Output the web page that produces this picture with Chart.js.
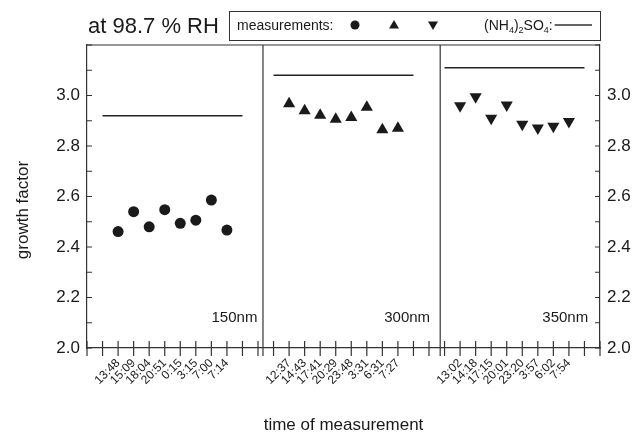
<!DOCTYPE html>
<html>
<head>
<meta charset="utf-8">
<script src="https://cdn.jsdelivr.net/npm/chart.js@4/dist/chart.umd.min.js"></script>
<style>
  body { margin: 0; background: #fff; }
  #c { display: block; }
</style>
</head>
<body>
<canvas id="c" width="638" height="439"></canvas>
<script>
// measurement times (tick labels), one list per particle size
var times150 = ["13:48", "15:09", "18:04", "20:51", "0:15", "3:15", "7:00", "7:14"];
var times300 = ["12:37", "14:43", "17:41", "20:29", "23:48", "3:31", "6:31", "7:27"];
var times350 = ["13:02", "14:18", "17:15", "20:01", "23:20", "3:57", "6:02", "7:54"];

// measured growth factors at 98.7 % RH
var gf150 = [2.461, 2.540, 2.480, 2.548, 2.494, 2.506, 2.586, 2.467];
var gf300 = [2.967, 2.940, 2.922, 2.906, 2.913, 2.953, 2.864, 2.870];
var gf350 = [2.959, 2.995, 2.910, 2.962, 2.886, 2.871, 2.878, 2.897];

// (NH4)2SO4 reference growth factor for each size
var refGf = [2.92, 3.08, 3.11];

// first tick slot of every panel on the shared time axis, and panel edges
var panelStart = [2, 13, 24];
var panelBreaks = [11.32, 22.72];
var panelNames = ["150nm", "300nm", "350nm"];
var xMax = 33;

var FONT = '"Liberation Sans", Arial, Helvetica, sans-serif';
var INK = '#1a1a1a';

var tickNames = {};
function toPoints(start, values, times) {
    var pts = [];
    for (var i = 0; i < values.length; i++) {
        pts.push({x: start + i, y: values[i]});
        tickNames[start + i] = times[i];
    }
    return pts;
}
function refLine(start, n, value) {
    // reference line runs one slot past the first and last measurement
    return [{x: start - 1, y: value}, {x: start + n, y: value}];
}

var pts150 = toPoints(panelStart[0], gf150, times150);
var pts300 = toPoints(panelStart[1], gf300, times300);
var pts350 = toPoints(panelStart[2], gf350, times350);

function markerSet(pts, style, radius, rot) {
    return {
        type: 'scatter',
        data: pts,
        pointStyle: style,
        pointRadius: radius,
        pointHoverRadius: radius,
        rotation: rot,
        backgroundColor: INK,
        borderColor: INK,
        borderWidth: 0
    };
}
function refSet(pts) {
    return {
        type: 'line',
        data: pts,
        borderColor: '#222',
        borderWidth: 1.5,
        pointRadius: 0,
        fill: false
    };
}

// frame, panel separators, tick marks, panel labels, header and legend
var decoPlugin = {
    id: 'deco',
    afterDraw: function(chart) {
        var ctx = chart.ctx;
        var a = chart.chartArea;
        var xs = chart.scales.x, ys = chart.scales.y;
        ctx.save();
        ctx.strokeStyle = '#333';
        ctx.lineWidth = 1.2;

        // top of frame
        ctx.beginPath();
        ctx.moveTo(a.left, a.top);
        ctx.lineTo(a.right, a.top);
        ctx.stroke();

        // panel separators
        panelBreaks.forEach(function(b) {
            var px = xs.getPixelForValue(b);
            ctx.beginPath();
            ctx.moveTo(px, a.top);
            ctx.lineTo(px, a.bottom + 8);
            ctx.stroke();
        });

        // x ticks cross the axis
        for (var v = 0; v <= xMax; v++) {
            var tx = xs.getPixelForValue(v);
            ctx.beginPath();
            ctx.moveTo(tx, a.bottom - 7);
            ctx.lineTo(tx, a.bottom + 8);
            ctx.stroke();
        }
        // y ticks point inwards on both sides
        for (var k = 20; k <= 32; k++) {
            var ty = ys.getPixelForValue(k / 10);
            ctx.beginPath();
            ctx.moveTo(a.left, ty);
            ctx.lineTo(a.left + 5, ty);
            ctx.moveTo(a.right, ty);
            ctx.lineTo(a.right - 5, ty);
            ctx.stroke();
        }

        // size labels in the lower right of each panel
        ctx.fillStyle = INK;
        ctx.font = '15px ' + FONT;
        ctx.textAlign = 'right';
        ctx.textBaseline = 'middle';
        var labelX = [10.96, 22.07, 32.24];
        panelNames.forEach(function(n, i) {
            ctx.fillText(n, xs.getPixelForValue(labelX[i]), ys.getPixelForValue(2.12));
        });

        // y axis title
        ctx.save();
        ctx.translate(23, 210);
        ctx.rotate(-Math.PI / 2);
        ctx.textAlign = 'center';
        ctx.font = '17px ' + FONT;
        ctx.fillText('growth factor', 0, 0);
        ctx.restore();

        // header
        ctx.textAlign = 'left';
        ctx.textBaseline = 'alphabetic';
        ctx.font = '22px ' + FONT;
        ctx.fillText('at 98.7 % RH', 88, 33);

        // legend box
        ctx.lineWidth = 1;
        ctx.strokeRect(229.5, 11.5, a.right - 229, 29);
        ctx.font = '14px ' + FONT;
        ctx.textBaseline = 'middle';
        ctx.fillText('measurements:', 237, 26);
        var ly = 25;
        ctx.beginPath();
        ctx.arc(355, ly, 4.5, 0, Math.PI * 2);
        ctx.fill();
        ctx.beginPath();
        ctx.moveTo(394, ly - 5); ctx.lineTo(399, ly + 3.5); ctx.lineTo(389, ly + 3.5);
        ctx.closePath(); ctx.fill();
        ctx.beginPath();
        ctx.moveTo(433, ly + 5); ctx.lineTo(438, ly - 3.5); ctx.lineTo(428, ly - 3.5);
        ctx.closePath(); ctx.fill();

        // (NH4)2SO4: with subscripts
        var parts = [['(NH', 0], ['4', 1], [')', 0], ['2', 1], ['SO', 0], ['4', 1], [':', 0]];
        var cx = 484;
        parts.forEach(function(p) {
            ctx.font = (p[1] ? '9px ' : '14px ') + FONT;
            ctx.fillText(p[0], cx, p[1] ? 31 : 26);
            cx += ctx.measureText(p[0]).width;
        });
        ctx.beginPath();
        ctx.lineWidth = 1.5;
        ctx.moveTo(cx + 2, ly);
        ctx.lineTo(a.right - 8, ly);
        ctx.stroke();
        ctx.restore();
    }
};

var yTicks = {
    stepSize: 0.1,
    color: INK,
    font: {family: FONT, size: 17},
    padding: 7,
    callback: function(v) {
        var t = Math.round(v * 10);
        if (t % 2 !== 0 || t >= 32) return '';
        return (t / 10).toFixed(1);
    }
};

new Chart(document.getElementById('c'), {
    type: 'scatter',
    data: {
        datasets: [
            markerSet(pts150, 'circle', 5.5, 0),
            markerSet(pts300, 'triangle', 7, 0),
            markerSet(pts350, 'triangle', 7, 180),
            refSet(refLine(panelStart[0], gf150.length, refGf[0])),
            refSet(refLine(panelStart[1], gf300.length, refGf[1])),
            refSet(refLine(panelStart[2], gf350.length, refGf[2]))
        ]
    },
    options: {
        responsive: false,
        animation: false,
        devicePixelRatio: 1,
        layout: {padding: {top: 45, left: 0, right: 0, bottom: 0}},
        plugins: {legend: {display: false}, tooltip: {enabled: false}},
        scales: {
            x: {
                type: 'linear',
                position: 'bottom',
                min: 0,
                max: xMax,
                afterFit: function(s) { s.height = 91; },
                border: {display: true, color: '#333', width: 1.2},
                grid: {display: false, drawTicks: false},
                ticks: {
                    stepSize: 1,
                    autoSkip: false,
                    minRotation: 45,
                    maxRotation: 45,
                    padding: 8,
                    color: INK,
                    font: {family: FONT, size: 12},
                    callback: function(v) { return tickNames[v] || ''; }
                },
                title: {
                    display: true,
                    text: 'time of measurement',
                    color: INK,
                    font: {family: FONT, size: 17},
                    padding: {top: 0, bottom: 3}
                }
            },
            y: {
                position: 'left',
                min: 2.0,
                max: 3.2,
                afterFit: function(s) { s.width = 87; },
                border: {display: true, color: '#333', width: 1.2},
                grid: {display: false, drawTicks: false},
                ticks: yTicks
            },
            y2: {
                position: 'right',
                min: 2.0,
                max: 3.2,
                afterFit: function(s) { s.width = 38; },
                border: {display: true, color: '#333', width: 1.2},
                grid: {display: false, drawTicks: false},
                ticks: yTicks
            }
        }
    },
    plugins: [decoPlugin]
});
</script>
</body>
</html>
